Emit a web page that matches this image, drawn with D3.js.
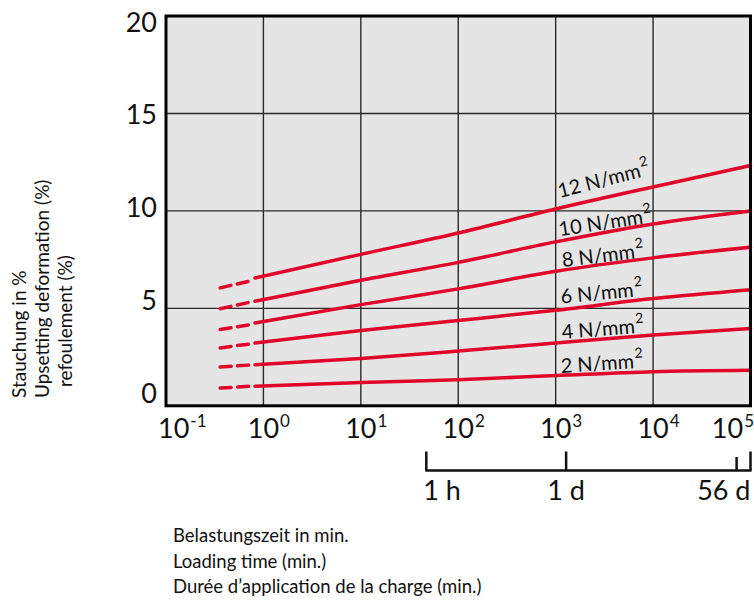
<!DOCTYPE html>
<html><head><meta charset="utf-8">
<script src="https://cdn.jsdelivr.net/npm/d3@7"></script>
<style>
body{margin:0;background:#fff}
svg{display:block}
text{font-family:Lato,'Noto Sans',sans-serif;fill:#111}
</style>
</head><body>
<svg id="chart" width="754" height="606"></svg>
<script>
// ---------- data ----------
const pressureLabels = ["12 N/mm", "10 N/mm", "8 N/mm", "6 N/mm", "4 N/mm", "2 N/mm"];
const times = [0.82, 10, 100, 1000, 10000, 100000];            // loading time, min
const strain12 = [6.56, 7.77, 8.87, 10.10, 11.23, 12.33];
const strain10 = [5.36, 6.44, 7.36, 8.41, 9.33, 10.00];
const strain8  = [4.25, 5.19, 6.00, 6.90, 7.59, 8.13];
const strain6  = [3.22, 3.86, 4.38, 4.90, 5.50, 5.96];
const strain4  = [2.11, 2.43, 2.81, 3.22, 3.63, 3.96];
const strain2  = [1.00, 1.20, 1.34, 1.55, 1.75, 1.82];
const dashTimes = [0.36, 0.72];                                   // extrapolated part
const dash12 = [6.05, 6.40];
const dash10 = [4.98, 5.31];
const dash8  = [3.91, 4.16];
const dash6  = [2.97, 3.17];
const dash4  = [1.99, 2.09];
const dash2  = [0.91, 1.00];
const xTickValues = [0.1, 1, 10, 100, 1000, 10000, 100000];
const xTickExponents = ["-1", "0", "1", "2", "3", "4", "5"];
const yTickValues = [0, 5, 10, 15, 20];
const timeMarkValues = [47, 1280, 72000];   // marks as drawn under the axis
const timeMarkLabels = ["1 h", "1 d", "56 d"];
const yTitleLines = ["Stauchung in %", "Upsetting deformation (%)", "refoulement (%)"];
const xTitleLines = ["Belastungszeit in min.", "Loading time (min.)", "Durée d\u2019application de la charge (min.)"];

const solidSeries = [strain12, strain10, strain8, strain6, strain4, strain2];
const dashSeries = [dash12, dash10, dash8, dash6, dash4, dash2];

// ---------- layout ----------
const L = 166, R = 750.5, T = 16, B = 405.8;
const RED = "#e2052b";
const svg = d3.select("#chart");
const x = d3.scaleLog().domain([0.1, 100000]).range([L, R]);
const y = d3.scaleLinear().domain([0, 20]).range([B, T]);
const yLabelPos = d3.scaleLinear().domain([0, 20]).range([393, 22]);

// plot background
svg.append("rect").attr("x", L).attr("y", T).attr("width", R - L).attr("height", B - T).attr("fill", "#e5e5e5");

// grid
const grid = svg.append("g").attr("stroke", "#2a2a2a").attr("stroke-width", 1.4);
grid.selectAll("line.v").data(xTickValues.slice(1, -1)).join("line")
  .attr("x1", d => x(d)).attr("x2", d => x(d)).attr("y1", T).attr("y2", B);
grid.selectAll("line.h").data(yTickValues.slice(1, -1)).join("line").attr("class", "h")
  .attr("x1", L).attr("x2", R).attr("y1", d => y(d)).attr("y2", d => y(d));

// curves
const line = d3.line().x(d => x(d[0])).y(d => y(d[1])).curve(d3.curveMonotoneX);
solidSeries.forEach(s => {
  svg.append("path").attr("d", line(times.map((t, i) => [t, s[i]])))
    .attr("fill", "none").attr("stroke", RED).attr("stroke-width", 3.5).attr("stroke-linecap", "round");
});
dashSeries.forEach(s => {
  svg.append("path").attr("d", line(dashTimes.map((t, i) => [t, s[i]])))
    .attr("fill", "none").attr("stroke", RED).attr("stroke-width", 3.5)
    .attr("stroke-dasharray", "11,6.5").attr("stroke-linecap", "round");
});

// curve labels
const labelRot = [-14.3, -8.7, -6.8, -5.5, -4.5, -3.7];
const labelLift = [11, 5.6, 4.4, 6.7, 4, 2.7];
const labelDx = [4, 4, 7, 5.5, 6.5, 5.5];
pressureLabels.forEach((lab, i) => {
  const lx = x(1000) + labelDx[i], ly = y(solidSeries[i][3]) - labelLift[i];
  const t = svg.append("text").attr("transform", `translate(${lx},${ly}) rotate(${labelRot[i]})`)
    .attr("font-size", 20);
  t.append("tspan").text(lab);
  t.append("tspan").attr("dy", -10).attr("dx", 1).attr("font-size", 14).text("2");
});

// frame
svg.append("rect").attr("x", L).attr("y", T).attr("width", R - L).attr("height", B - T)
  .attr("fill", "none").attr("stroke", "#000").attr("stroke-width", 3);

// y tick labels
svg.selectAll("text.yt").data(yTickValues).join("text").attr("class", "yt")
  .attr("x", 157).attr("y", d => yLabelPos(d)).attr("dy", "0.36em")
  .attr("text-anchor", "end").attr("font-size", 27).text(d => d);

// x tick labels
xTickValues.forEach((v, i) => {
  const g = svg.append("g");
  const base = g.append("text").attr("y", 438).attr("font-size", 27).text("10");
  const sup = g.append("text").attr("y", 427).attr("font-size", 17).text(xTickExponents[i]);
  const wb = base.node().getComputedTextLength();
  const ws = sup.node().getComputedTextLength();
  let cx = x(v);
  let left = cx - wb / 2;
  if (left < 158) left = 158;
  if (left + wb + 1 + ws > 754) left = 754 - (wb + 1 + ws);
  base.attr("x", left);
  sup.attr("x", left + wb + 1);
});

// time marks
const ts = svg.append("g").attr("stroke", "#111").attr("stroke-width", 2.5).attr("fill", "none");
const tsY = 470.5;
ts.append("line").attr("x1", x(timeMarkValues[0]) - 1).attr("x2", x(100000) + 1).attr("y1", tsY).attr("y2", tsY);
ts.selectAll("line.tk").data(timeMarkValues).join("line").attr("class", "tk")
  .attr("x1", d => x(d)).attr("x2", d => x(d))
  .attr("y1", (d, i) => i === 2 ? 457 : 451.5).attr("y2", tsY);
ts.append("line").attr("x1", x(100000)).attr("x2", x(100000)).attr("y1", 451.5).attr("y2", tsY);
const anchors = ["start", "middle", "end"];
timeMarkLabels.forEach((lab, i) => {
  const px = i === 0 ? x(timeMarkValues[0]) - 3 : i === 1 ? x(timeMarkValues[1]) : x(100000);
  svg.append("text").attr("x", px).attr("y", 500).attr("text-anchor", anchors[i])
    .attr("font-size", 27).text(lab);
});

// y title
const ytBase = [25.5, 48.5, 71.5];
const ytStart = [398, 398, 387];
yTitleLines.forEach((s, i) => {
  svg.append("text").attr("transform", `translate(${ytBase[i]},${ytStart[i]}) rotate(-90)`)
    .attr("font-size", 19).text(s);
});

// x title
xTitleLines.forEach((s, i) => {
  svg.append("text").attr("x", 173).attr("y", 542 + i * 25.5).attr("font-size", 18.5).text(s);
});
</script>
</body></html>
